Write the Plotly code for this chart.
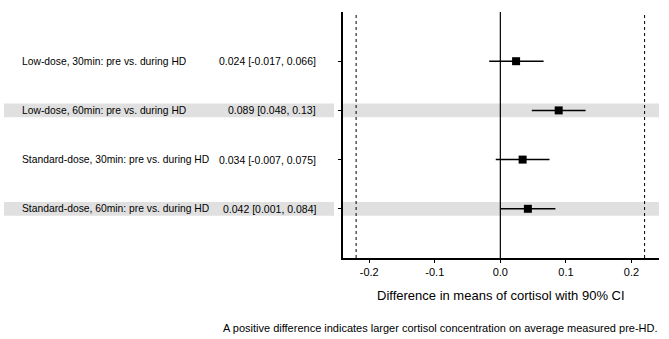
import plotly.graph_objects as go

labels = ["Low-dose, 30min: pre vs. during HD",
          "Low-dose, 60min: pre vs. during HD",
          "Standard-dose, 30min: pre vs. during HD",
          "Standard-dose, 60min: pre vs. during HD"]
estimate = [0.024, 0.089, 0.034, 0.042]
lower = [-0.017, 0.048, -0.007, 0.001]
upper = [0.066, 0.13, 0.075, 0.084]
ci_text = ["0.024 [-0.017, 0.066]", "0.089 [0.048, 0.13]",
           "0.034 [-0.007, 0.075]", "0.042 [0.001, 0.084]"]
xticks = [-0.2, -0.1, 0.0, 0.1, 0.2]
equiv_margin = 0.22
x_title = "Difference in means of cortisol with 90% CI"
caption = "A positive difference indicates larger cortisol concentration on average measured pre-HD."

n = len(labels)
ypos = [n - i for i in range(n)]

W, H = 669, 339
L, R, T, B = 343, 10, 12, 81
pw = W - L - R
ph = H - T - B

def px2paper_x(px):
    return (px - L) / pw

def px2paper_y(py):
    return (H - B - py) / ph

FONT = "Liberation Sans, Arial, Helvetica, sans-serif"

fig = go.Figure()
fig.add_trace(go.Scatter(
    x=estimate, y=ypos, mode="markers",
    marker=dict(symbol="square", size=8, color="black"),
    error_x=dict(type="data", symmetric=False,
                 array=[u - e for u, e in zip(upper, estimate)],
                 arrayminus=[e - l for e, l in zip(estimate, lower)],
                 width=0, thickness=1.5, color="black"),
    showlegend=False, hoverinfo="skip"))

shapes = []
band_half = 0.14
for i, y in enumerate(ypos):
    if i % 2 == 1:
        shapes.append(dict(type="rect", xref="paper", yref="y",
                           x0=px2paper_x(4), x1=px2paper_x(334),
                           y0=y - band_half, y1=y + band_half,
                           fillcolor="#e0e0e0", line=dict(width=0), layer="below"))
        shapes.append(dict(type="rect", xref="paper", yref="y",
                           x0=0, x1=1, y0=y - band_half, y1=y + band_half,
                           fillcolor="#e0e0e0", line=dict(width=0), layer="below"))
for xv in (-equiv_margin, equiv_margin):
    shapes.append(dict(type="line", xref="x", yref="paper", x0=xv, x1=xv, y0=0, y1=1,
                       line=dict(color="black", width=1, dash="dot")))
shapes.append(dict(type="line", xref="x", yref="paper", x0=0, x1=0, y0=0, y1=1,
                   line=dict(color="black", width=1.2)))

annotations = []
for lab, ct, y in zip(labels, ci_text, ypos):
    annotations.append(dict(text=lab, xref="paper", yref="y", x=px2paper_x(20), y=y,
                            xanchor="left", yanchor="middle", showarrow=False,
                            font=dict(family=FONT, size=10.3, color="black")))
    annotations.append(dict(text=ct, xref="paper", yref="y", x=px2paper_x(318), y=y,
                            xanchor="right", yanchor="middle", showarrow=False,
                            font=dict(family=FONT, size=10.5, color="black")))
annotations.append(dict(text=x_title, xref="paper", yref="paper", x=0.5, y=px2paper_y(295),
                        xanchor="center", yanchor="middle", showarrow=False,
                        font=dict(family=FONT, size=13, color="black")))
annotations.append(dict(text=caption, xref="paper", yref="paper", x=px2paper_x(660), y=px2paper_y(328),
                        xanchor="right", yanchor="middle", showarrow=False,
                        font=dict(family=FONT, size=11, color="black")))

fig.update_layout(
    width=W, height=H, margin=dict(l=L, r=R, t=T, b=B),
    plot_bgcolor="white", paper_bgcolor="white",
    shapes=shapes, annotations=annotations,
    xaxis=dict(range=[-0.24, 0.242], tickvals=xticks,
               ticktext=[f"{v:.1f}" for v in xticks],
               showgrid=False, zeroline=False, showline=True, linecolor="black", linewidth=1.5,
               ticks="outside", ticklen=3, tickcolor="black",
               tickfont=dict(family=FONT, size=11, color="black")),
    yaxis=dict(range=[0, 5], tickvals=ypos, showticklabels=False,
               showgrid=False, zeroline=False, showline=True, linecolor="black", linewidth=1.5,
               ticks="outside", ticklen=3, tickcolor="black"),
)

fig.write_html("out.html", config={"displayModeBar": False},
               post_script="document.body.style.margin='0px';document.body.style.overflow='hidden';")
